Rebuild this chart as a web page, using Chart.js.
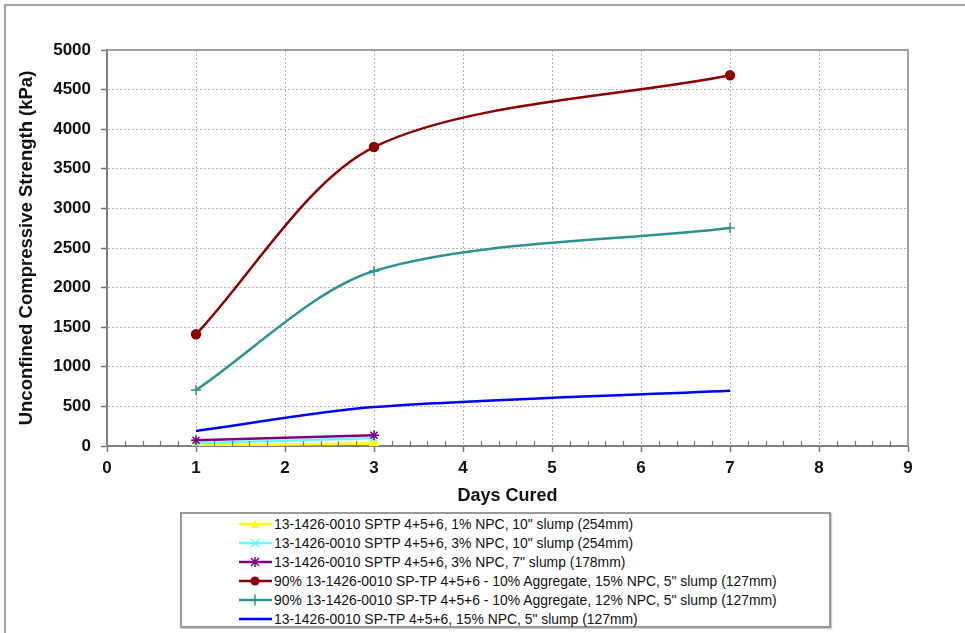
<!DOCTYPE html>
<html>
<head>
<meta charset="utf-8">
<script src="https://cdn.jsdelivr.net/npm/chart.js@4.4.1/dist/chart.umd.min.js"></script>
<style>
  html, body { margin: 0; padding: 0; background: #fff; overflow: hidden; }
  body { width: 965px; height: 633px; position: relative; font-family: "Liberation Sans", Arial, sans-serif; }
  #frame { position: absolute; left: 4px; top: 4px; width: 1000px; height: 700px;
           border-top: 2px solid #a6a6a6; border-left: 2px solid #a6a6a6; }
  #wrap { position: absolute; left: 0; top: 0; width: 965px; height: 510px; }
  #legend { position: absolute; left: 180px; top: 512px; width: 647px; height: 112px;
            border: 2px solid #999; box-shadow: 1px 1px 1px #ccc; background: #fff; }
  #legend .row { position: absolute; left: 57px; height: 19px; display: flex; align-items: center;
                 font-size: 13.9px; color: #111; white-space: nowrap; }
  #legend svg { margin-right: 2px; }
</style>
</head>
<body>
<div id="frame"></div>
<div id="wrap"><canvas id="chart"></canvas></div>
<div id="legend"></div>
<script>
// days cured
const days = [1, 3, 7];

// unconfined compressive strength, kPa
const npc1Slump10 = [5, 30];
const npc3Slump10 = [35, 100];
const npc3Slump7 = [72, 135];
const agg15Npc = [1410, 3775, 4680];
const agg12Npc = [707, 2210, 2752];
const npc15Slump5 = [190, 492, 698];

const seriesLabels = [
    '13-1426-0010 SPTP 4+5+6, 1% NPC, 10" slump (254mm)',
    '13-1426-0010 SPTP 4+5+6, 3% NPC, 10" slump (254mm)',
    '13-1426-0010 SPTP 4+5+6, 3% NPC, 7" slump (178mm)',
    '90% 13-1426-0010 SP-TP 4+5+6 - 10% Aggregate, 15% NPC, 5" slump (127mm)',
    '90% 13-1426-0010 SP-TP 4+5+6 - 10% Aggregate, 12% NPC, 5" slump (127mm)',
    '13-1426-0010 SP-TP 4+5+6, 15% NPC, 5" slump (127mm)'
];
const seriesValues = [npc1Slump10, npc3Slump10, npc3Slump7, agg15Npc, agg12Npc, npc15Slump5];
const seriesColors = ['#ffff00', '#66ffff', '#800080', '#8b0000', '#2e9390', '#0000ff'];
const seriesMarkers = ['triangle', 'crossRot', 'star', 'circle', 'cross', false];

const xTicks = [0, 1, 2, 3, 4, 5, 6, 7, 8, 9];
const yTicks = [0, 500, 1000, 1500, 2000, 2500, 3000, 3500, 4000, 4500, 5000];

const datasets = seriesLabels.map((label, i) => ({
    label: label,
    data: seriesValues[i].map((v, j) => ({ x: days[j], y: v })),
    borderColor: seriesColors[i],
    backgroundColor: seriesColors[i],
    fill: false,
    borderWidth: 2.5,
    tension: 0.3,
    pointStyle: seriesMarkers[i],
    pointRadius: seriesMarkers[i] ? (seriesMarkers[i] === 'circle' ? 4.5 : 5) : 0,
    pointBorderWidth: 1.5,
    order: 6 - i
}));

// small inward tick marks between the whole days
const minorTicks = {
    id: 'minorTicks',
    afterDatasetsDraw(chart) {
        const x = chart.scales.x;
        const ctx = chart.ctx;
        const bottom = chart.chartArea.bottom;
        ctx.save();
        ctx.strokeStyle = '#777';
        ctx.lineWidth = 1.2;
        for (let k = 0; k <= 45; k++) {
            if (k % 5 === 0) continue;
            const px = Math.round(x.getPixelForValue(k / 5)) + 0.5;
            ctx.beginPath();
            ctx.moveTo(px, bottom);
            ctx.lineTo(px, bottom - 5);
            ctx.stroke();
        }
        // gray frame on top and right of the plot
        const a = chart.chartArea;
        ctx.strokeStyle = '#a0a0a0';
        ctx.lineWidth = 2;
        ctx.beginPath();
        ctx.moveTo(a.left, a.top);
        ctx.lineTo(a.right, a.top);
        ctx.lineTo(a.right, a.bottom);
        ctx.stroke();
        ctx.restore();
    }
};

const fontFamily = '"Liberation Sans", Arial, sans-serif';
const tickFont = { family: fontFamily, size: 17, weight: 'bold' };

new Chart(document.getElementById('chart'), {
    type: 'line',
    data: { datasets: datasets },
    options: {
        responsive: true,
        maintainAspectRatio: false,
        animation: false,
        layout: { padding: { top: 50, right: 57, bottom: 0, left: 0 } },
        plugins: { legend: { display: false }, tooltip: { enabled: false } },
        scales: {
            x: {
                type: 'linear',
                min: xTicks[0],
                max: xTicks[xTicks.length - 1],
                afterBuildTicks: s => { s.ticks = xTicks.map(v => ({ value: v })); },
                afterFit: s => { s.height = 64; },
                ticks: { color: '#111', font: tickFont, padding: 6, callback: v => v },
                grid: { color: '#b3b3b3', lineWidth: 1, tickLength: 6, tickColor: '#777', tickWidth: 1.5 },
                border: { color: '#808080', width: 2, dash: [2, 2] },
                title: {
                    display: true, text: 'Days Cured', color: '#111',
                    font: { family: fontFamily, size: 18, weight: 'bold' },
                    padding: { top: 0, bottom: 3 }
                }
            },
            y: {
                min: yTicks[0],
                max: yTicks[yTicks.length - 1],
                afterBuildTicks: s => { s.ticks = yTicks.map(v => ({ value: v })); },
                afterFit: s => { s.width = 107; },
                ticks: { color: '#111', font: tickFont, padding: 10, callback: v => v },
                grid: { color: '#b3b3b3', lineWidth: 1, tickLength: 6, tickColor: '#777', tickWidth: 1.5 },
                border: { color: '#808080', width: 2, dash: [2, 2] },
                title: {
                    display: true, text: 'Unconfined Compressive Strength (kPa)', color: '#111',
                    font: { family: fontFamily, size: 18.5, weight: 'bold' },
                    padding: { top: 16, bottom: 0 }
                }
            }
        }
    },
    plugins: [minorTicks]
});

// legend box, one entry per row
function markerSvg(style, color) {
    let m = '';
    if (style === 'triangle') m = `<polygon points="16,3 11.5,11 20.5,11" fill="${color}"/>`;
    else if (style === 'crossRot') m = `<path d="M12,3 L20,11 M20,3 L12,11" stroke="${color}" stroke-width="1.5"/>`;
    else if (style === 'star') m = `<path d="M12,3 L20,11 M20,3 L12,11 M16,2 L16,12" stroke="${color}" stroke-width="1.5"/>`;
    else if (style === 'circle') m = `<circle cx="16" cy="7" r="4.5" fill="${color}"/>`;
    else if (style === 'cross') m = `<path d="M16,1.5 L16,12.5" stroke="${color}" stroke-width="1.5"/>`;
    return `<svg width="33" height="14" viewBox="0 0 33 14"><line x1="0" y1="7" x2="33" y2="7" stroke="${color}" stroke-width="2.5"/>${m}</svg>`;
}

const legendEl = document.getElementById('legend');
seriesLabels.forEach((label, i) => {
    const row = document.createElement('div');
    row.className = 'row';
    row.style.top = (0 + i * 19) + 'px';
    row.innerHTML = markerSvg(seriesMarkers[i], seriesColors[i]) + '<span></span>';
    row.querySelector('span').textContent = label;
    legendEl.appendChild(row);
});
</script>
</body>
</html>
